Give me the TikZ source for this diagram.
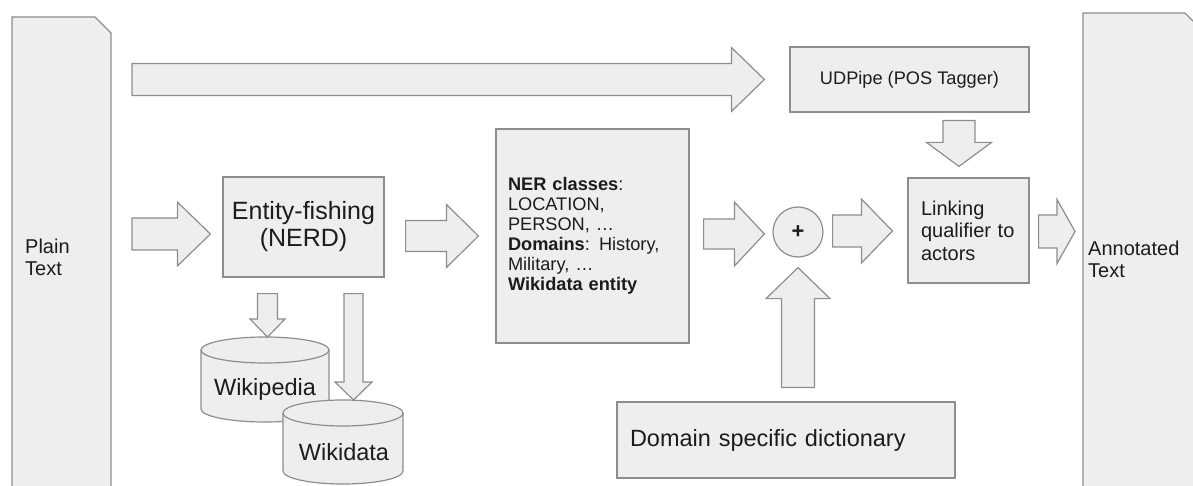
\documentclass[tikz,border=0pt]{standalone}
\usepackage{fontspec}
\setmainfont{Liberation Sans}
\usetikzlibrary{calc}
\definecolor{boxfill}{HTML}{EEEEEE}
\definecolor{boxline}{HTML}{8E8E8E}
\definecolor{ink}{HTML}{1C1C1C}
\tikzset{
  shade/.style={draw=boxline, fill=boxfill, line width=1.2pt, line join=miter},
  box/.style={shade, rectangle, inner sep=0pt},
  big/.style={font=\fontsize{23.5}{27}\selectfont},
  mid/.style={font=\fontsize{20}{22}\selectfont},
  small/.style={font=\fontsize{18.2}{20}\selectfont},
}
% fat block arrows: tail, tip, body half width, head half width, head length
\newcommand{\hfat}[5]{%
  \draw[shade] ($(#1)+(0,#3)$) -- ($(#2)+(-#5,#3)$) -- ($(#2)+(-#5,#4)$) -- (#2)
    -- ($(#2)+(-#5,-#4)$) -- ($(#2)+(-#5,-#3)$) -- ($(#1)+(0,-#3)$) -- cycle;}
\newcommand{\vfat}[5]{%
  \draw[shade] ($(#1)-(#3,0)$) -- ($(#2)-(#3,#5)$) -- ($(#2)-(#4,#5)$) -- (#2)
    -- ($(#2)+(#4,0)-(0,#5)$) -- ($(#2)+(#3,0)-(0,#5)$) -- ($(#1)+(#3,0)$) -- cycle;}
\begin{document}
\begin{tikzpicture}[x=1pt,y=-1pt,every node/.style={text=ink}]
\useasboundingbox (0,0) rectangle (1193,486);
\clip (0,0) rectangle (1193,486);

% input and output pages
\draw[shade] (12,17) -- (95,17) -- (111,33) -- (111,500) -- (12,500) -- cycle;
\node[mid, align=left, anchor=west, inner sep=0pt] (plain) at (25,257) {Plain\\Text};
\coordinate (plainedge) at (111,257);
\draw[shade] (1083,13) -- (1185,13) -- (1201,29) -- (1201,500) -- (1083,500) -- cycle;
\node[mid, align=left, anchor=west, inner sep=0pt] (annot) at (1088,259) {Annotated\\Text};
\coordinate (annotedge) at (1083,259);

% processing boxes
\node[box, small, minimum width=239pt, minimum height=65pt] (udpipe) at (909.5,79.5) {UDPipe (POS Tagger)};
\node[box, font=\fontsize{25}{27}\selectfont, align=center, minimum width=161pt, minimum height=100pt] (nerd) at (303.5,227) {Entity-fishing\\(NERD)};
\node[box, small, align=left, text width=169pt, minimum width=193pt, minimum height=214pt] (ner) at (592.5,236)
  {\textbf{NER classes}:\\LOCATION,\\PERSON, …\\\textbf{Domains}: History,\\Military, …\\\textbf{Wikidata entity}};
\node[box, circle, font=\fontsize{22}{24}\selectfont\bfseries, minimum size=50pt] (plus) at (798,232) {+};
\node[box, font=\fontsize{20}{22.5}\selectfont, align=left, text width=95pt, minimum width=121pt, minimum height=105pt] (linking) at (968.5,230.5)
  {Linking\\qualifier to\\actors};
\node[box, big, align=left, text width=312pt, minimum width=338pt, minimum height=76pt] (domain) at (786,440) {Domain specific dictionary};

% knowledge bases
\draw[shade] (201,350) -- (201,409) arc[start angle=180, end angle=360, x radius=64pt, y radius=13pt]
  -- (329,350) arc[start angle=0, end angle=180, x radius=64pt, y radius=13pt] -- cycle;
\draw[shade, fill=none] (201,350) arc[start angle=180, end angle=360, x radius=64pt, y radius=13pt];
\node[big] (wikipedia) at (265,389) {Wikipedia};
\coordinate (wikipediatop) at (265,337);
\draw[shade] (283,413) -- (283,471) arc[start angle=180, end angle=360, x radius=60pt, y radius=13pt]
  -- (403,413) arc[start angle=0, end angle=180, x radius=60pt, y radius=13pt] -- cycle;
\draw[shade, fill=none] (283,413) arc[start angle=180, end angle=360, x radius=60pt, y radius=13pt];
\node[big] (wikidata) at (344,452) {Wikidata};
\coordinate (wikidatatop) at (343,400);

% arrows
\coordinate (t0) at ($(plainedge |- udpipe)+(21,0)$);
\coordinate (t1) at ($(udpipe.west)+(-25,0)$);
\hfat{t0}{t1}{16}{32}{33}
\coordinate (p0) at ($(plainedge |- nerd)+(21,7)$);
\coordinate (p1) at ($(nerd.west)+(-12,7)$);
\hfat{p0}{p1}{16}{32}{33}
\coordinate (n0) at ($(nerd.east |- ner)+(21,0)$);
\coordinate (n1) at ($(ner.west)+(-17,0)$);
\hfat{n0}{n1}{15.5}{31.5}{32}
\coordinate (m0) at ($(ner.east |- plus)+(14,2)$);
\coordinate (m1) at ($(plus.west)+(-8,2)$);
\hfat{m0}{m1}{15}{32}{30}
\coordinate (q0) at ($(plus.east)+(9,-1)$);
\coordinate (q1) at ($(linking.west |- q0)+(-15,0)$);
\hfat{q0}{q1}{16}{32}{31}
\coordinate (l0) at ($(linking.east)+(9,1)$);
\coordinate (l1) at ($(annotedge |- l0)+(-8,0)$);
\hfat{l0}{l1}{16.5}{32}{18}
\coordinate (u0) at ($(udpipe.south -| linking)+(-9.5,8)$);
\coordinate (u1) at ($(linking.north)+(-9.5,-11)$);
\vfat{u0}{u1}{16}{32.5}{24}
\coordinate (d0) at ($(domain.north -| plus)+(0,-14)$);
\coordinate (d1) at ($(plus.south)+(0,10)$);
\vfat{d0}{d1}{16.5}{32}{-31}
\coordinate (a1) at ($(nerd.south)+(-36,16)$);
\vfat{a1}{a1 |- wikipediatop}{10}{17.5}{18}
\coordinate (a2) at ($(nerd.south)+(50,16)$);
\vfat{a2}{a2 |- wikidatatop}{9.5}{18.5}{18}
\end{tikzpicture}
\end{document}
